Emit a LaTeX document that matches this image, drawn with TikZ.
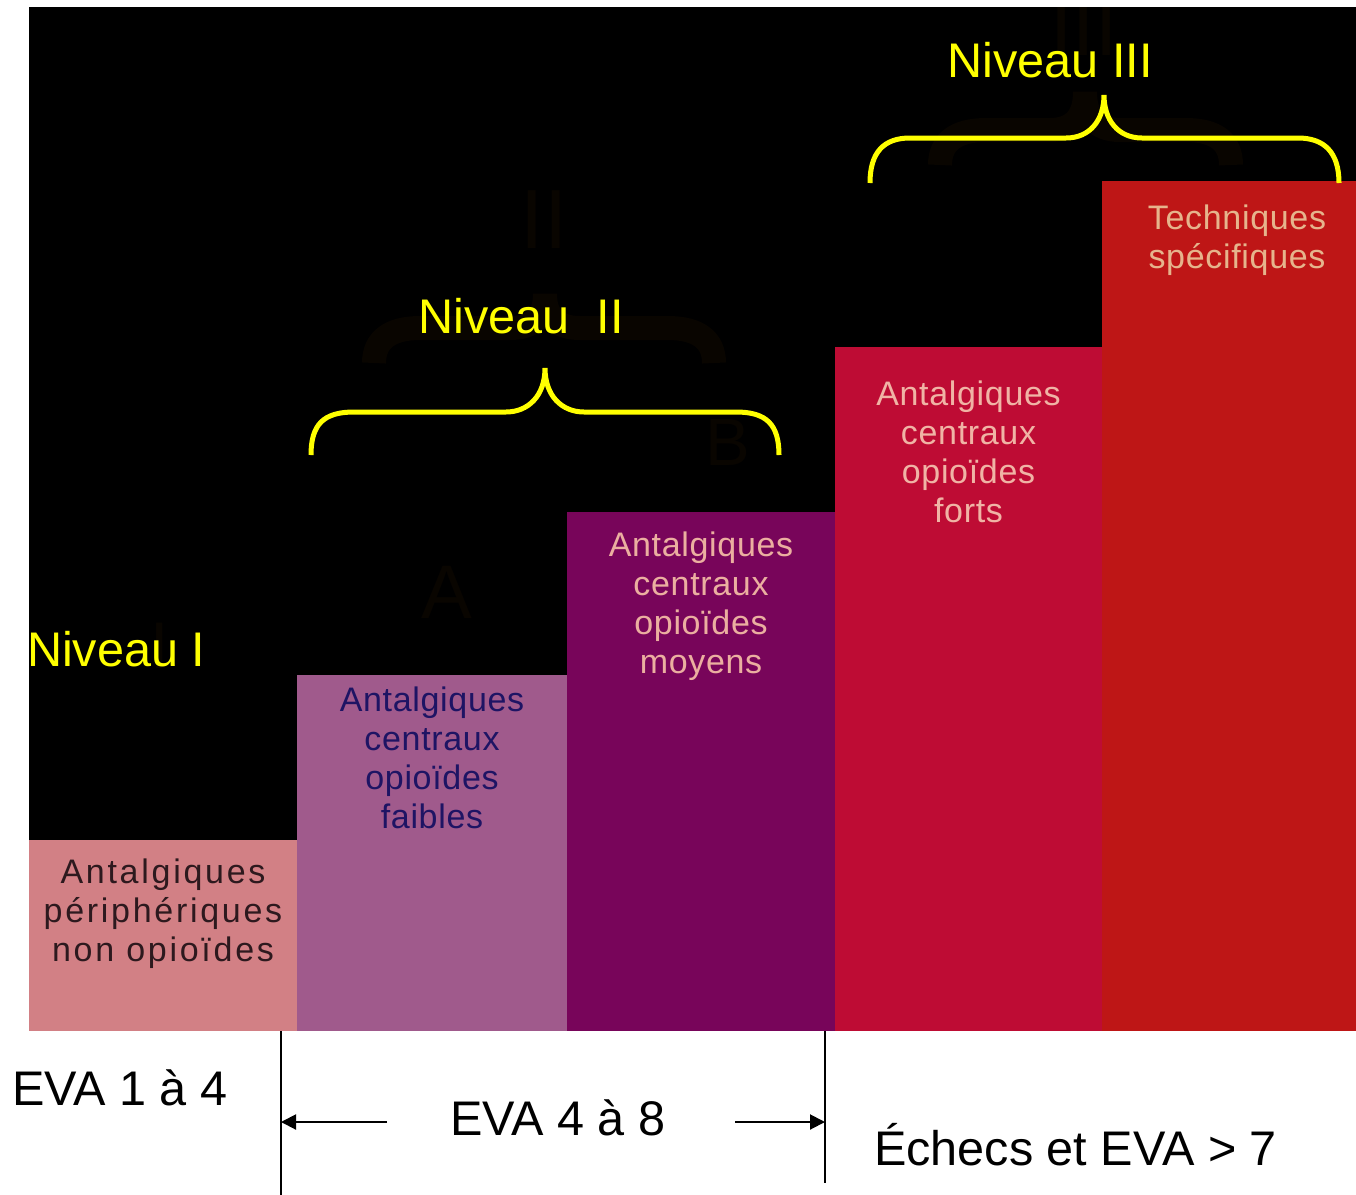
\documentclass[tikz,border=0pt]{standalone}
\usepackage{fontspec}
\setmainfont{Liberation Sans}
\newfontfamily\barfont[LetterSpace=2]{Liberation Sans}
\newfontfamily\barwidefont[LetterSpace=8]{Liberation Sans}
\usepackage{tikz}
\usetikzlibrary{arrows.meta}
\usetikzlibrary{positioning}

\definecolor{bari}{RGB}{210,128,133}
\definecolor{barii}{RGB}{160,90,140}
\definecolor{bariii}{RGB}{120,5,90}
\definecolor{bariv}{RGB}{190,12,52}
\definecolor{barv}{RGB}{190,22,22}
\definecolor{txti}{RGB}{45,25,30}
\definecolor{txtii}{RGB}{30,20,100}
\definecolor{txtiii}{RGB}{235,175,160}
\definecolor{txtiv}{RGB}{240,180,165}
\definecolor{txtv}{RGB}{230,180,140}
\definecolor{ghostcol}{RGB}{9,5,0}
\definecolor{levelyellow}{RGB}{255,255,0}

\tikzset{
% Define standard arrow tip
>={Triangle[length=7.5pt, width=7.5pt]},
bar/.style={rectangle, draw=none, anchor=south west},
bartext/.style={align=center, anchor=north, font=\barfont\fontsize{17}{19.5}\selectfont},
level/.style={text=levelyellow, anchor=base west, font=\fontsize{24.3}{28}\selectfont},
eva/.style={text=black, anchor=base west, font=\fontsize{24.3}{28}\selectfont},
brace/.style={draw=levelyellow, line width=2.5pt},
ghost/.style={draw=ghostcol, text=ghostcol, line width=12pt}
}

\begin{document}
\begin{tikzpicture}[x=1pt, y=1pt, inner sep=0, outer sep=0]
  \useasboundingbox (0,0) rectangle (678,-597.5);
  \fill[black] (14.5,-3.5) rectangle (678,-515.5);

  % faint shapes left in the background
  \begin{scope}[ghost]
    \clip (14.5,-3.5) rectangle (678,-515.5);
    \node[font=\fontsize{40}{40}\selectfont] (ghostIII) at (542,-14) {III};
    \node[font=\fontsize{42}{42}\selectfont] (ghostII) at (272,-110) {II};
    \node[font=\fontsize{38}{38}\selectfont] (ghostA) at (223.5,-296) {A};
    \node[font=\fontsize{33.5}{33.5}\selectfont] (ghostB) at (364,-221) {B};
    \node[font=\fontsize{33}{33}\selectfont] (ghostI) at (80,-323) {I};
    \draw (187,-181.5) .. controls (187,-170) and (195,-164) .. (210,-164) -- (255,-164)
      .. controls (267,-164) and (272.5,-158) .. (272.5,-147)
      .. controls (272.5,-158) and (278,-164) .. (290,-164) -- (334,-164)
      .. controls (349,-164) and (357,-170) .. (357,-181.5);
    \draw (470,-82.5) .. controls (470,-71) and (478,-65) .. (493,-65) -- (525,-65)
      .. controls (537,-65) and (542.5,-58) .. (542.5,-46)
      .. controls (542.5,-58) and (548,-65) .. (560,-65) -- (593,-65)
      .. controls (608,-65) and (615.5,-71) .. (615.5,-82.5);
  \end{scope}

  \coordinate (floor) at (14.5,-515.5);
  \node[bar, minimum width=134pt, minimum height=95.5pt, fill=bari] (bar1) at (floor) {};
  \node[bar, minimum width=135pt, minimum height=178pt, fill=barii] (bar2) at (bar1.south east) {};
  \node[bar, minimum width=134pt, minimum height=259.5pt, fill=bariii] (bar3) at (bar2.south east) {};
  \node[bar, minimum width=133.5pt, minimum height=342pt, fill=bariv] (bar4) at (bar3.south east) {};
  \node[bar, minimum width=127pt, minimum height=425pt, fill=barv] (bar5) at (bar4.south east) {};

  \node[bartext, text=txti, font=\barwidefont\fontsize{17}{19.5}\selectfont] (bar1text)
    at ([yshift=-9.5pt]bar1.north) {Antalgiques\\périphériques\\non opioïdes};
  \node[bartext, text=txtii] (bar2text)
    at ([yshift=-6pt]bar2.north) {Antalgiques\\centraux\\opioïdes\\faibles};
  \node[bartext, text=txtiii] (bar3text)
    at ([yshift=-10pt]bar3.north) {Antalgiques\\centraux\\opioïdes\\moyens};
  \node[bartext, text=txtiv] (bar4text)
    at ([yshift=-17pt]bar4.north) {Antalgiques\\centraux\\opioïdes\\forts};
  \node[bartext, text=txtv] (bar5text)
    at ([xshift=4pt, yshift=-12pt]bar5.north) {Techniques\\spécifiques};

  % level labels and braces
  \node[level] (level1) at (13.5,-333) {Niveau I};
  \node[level] (level2) at (209.2,-166.5) {Niveau\ \ II};
  \node[level] (level3) at (473.7,-38.5) {Niveau III};
  \draw[brace] (155.5,-227.5) .. controls (155.5,-212) and (162,-206) .. (177,-206) -- (253,-206)
    .. controls (264,-206) and (272.5,-198) .. (272.5,-184)
    .. controls (272.5,-198) and (281,-206) .. (292,-206) -- (368,-206)
    .. controls (383,-206) and (389.5,-212) .. (389.5,-227.5);
  \draw[brace] (435,-91.5) .. controls (435,-76) and (442,-69) .. (455,-69) -- (533,-69)
    .. controls (545,-69) and (552,-60) .. (552,-47.5)
    .. controls (552,-60) and (559,-69) .. (571,-69) -- (649,-69)
    .. controls (662,-69) and (669.5,-76) .. (669.5,-91.5);

  % EVA ranges
  \node[eva] (eva1) at (6,-552.5) {EVA 1 à 4};
  \node[eva] (eva2) at (225,-567.5) {EVA 4 à 8};
  \node[eva] (eva3) at (437,-582.5) {Échecs et EVA > 7};

  \coordinate (markL) at (140.5,-515.5);
  \coordinate (markLend) at (140.5,-597.5);
  \coordinate (markR) at (412.5,-515.5);
  \coordinate (markRend) at (412.5,-591.5);
  \coordinate (arrL) at (193.5,-561);
  \coordinate (arrR) at (367.5,-561);
  \draw[line width=0.8pt] (markL) -- (markLend);
  \draw[line width=1pt] (markR) -- (markRend);
  \draw[->, line width=1pt] (arrL) -- (arrL -| markL);
  \draw[->, line width=1pt] (arrR) -- (arrR -| markR);
\end{tikzpicture}
\end{document}
